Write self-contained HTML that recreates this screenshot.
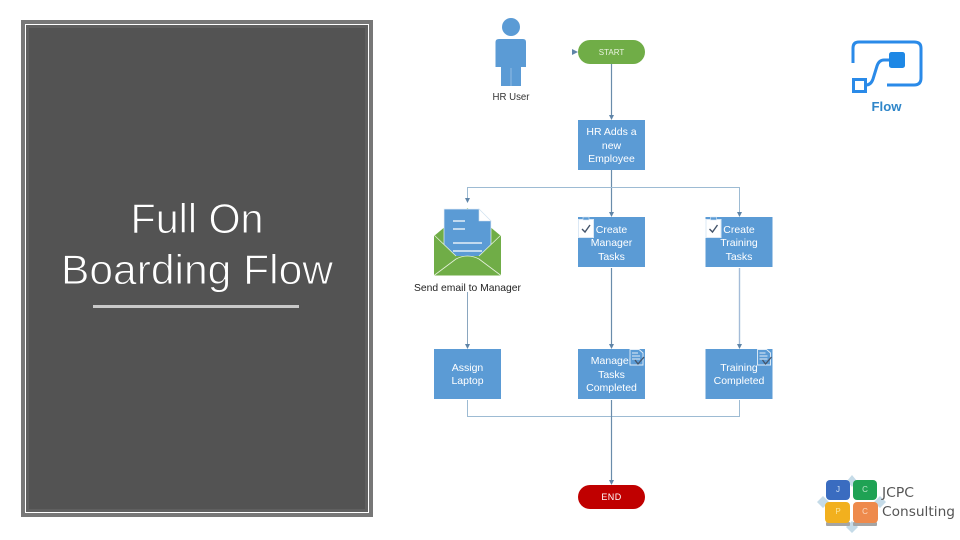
<!DOCTYPE html>
<html><head><meta charset="utf-8"><style>
html,body{margin:0;padding:0;background:#fff;width:960px;height:540px;overflow:hidden}
svg{display:block;filter:blur(.3px)}
text{font-family:"Liberation Sans",sans-serif}
</style></head><body>
<svg width="960" height="540" viewBox="0 0 960 540" xmlns="http://www.w3.org/2000/svg">
<rect width="960" height="540" fill="#fff"/>
<!-- left panel -->
<rect x="21" y="20" width="352" height="497" fill="#777"/>
<rect x="25" y="24" width="344" height="489" fill="#fff"/>
<rect x="26" y="25" width="342" height="487" fill="#5f5f5f"/>
<rect x="29" y="28" width="336" height="481" fill="#535353"/>
<g font-size="42" fill="#fff" stroke="#535353" stroke-width=".9" text-anchor="middle">
<text x="197" y="233" textLength="133" lengthAdjust="spacingAndGlyphs">Full On</text>
<text x="197" y="284" textLength="272" lengthAdjust="spacingAndGlyphs">Boarding Flow</text>
</g>
<rect x="93" y="305" width="206" height="3" fill="#c9c9c9"/>

<!-- connectors -->
<g fill="none" stroke="#7f9db9" stroke-width="1">
<path d="M611.5 64V118" stroke="#6a8cab" stroke-width="1.2"/>
<path d="M611.5 170V214" stroke="#6a8cab" stroke-width="1.2"/>
<path d="M467.5 200V187.5H739.5V214" stroke="#9dbbd3"/>
<path d="M467.5 292V347" stroke="#8aa6bf"/>
<path d="M611.5 268V346" stroke="#6a8cab" stroke-width="1.2"/>
<path d="M739.5 268V346" stroke="#a4bcd8" stroke-width="1.4"/>
<path d="M467.5 400V416.5H739.5V400" stroke="#9dbbd3"/>
<path d="M611.5 400V482" stroke="#6a8cab" stroke-width="1.2"/>
</g>
<g fill="#5f85a8">
<path d="M572 49L578 52L572 55Z"/>
<path d="M609 115H614L611.5 120Z"/>
<path d="M465 198H470L467.5 203Z"/>
<path d="M609 212H614L611.5 217Z"/>
<path d="M737 212H742L739.5 217Z"/>
<path d="M465 344H470L467.5 349Z"/>
<path d="M609 344H614L611.5 349Z"/>
<path d="M737 344H742L739.5 349Z"/>
<path d="M609 480H614L611.5 485Z"/>
</g>

<!-- HR user -->
<g fill="#5b9bd5">
<circle cx="511" cy="27" r="9"/>
<path d="M499 39H523Q526 39 526 42V67H521V86H501V67H495.500V42Q495.500 39 499 39Z"/>
</g>
<path d="M511 68V86" stroke="#a9c9e8" stroke-width=".7"/>
<text x="511" y="100" font-size="10" fill="#333" text-anchor="middle" textLength="37" lengthAdjust="spacingAndGlyphs">HR User</text>

<!-- start / end -->
<rect x="578" y="40" width="67" height="24" rx="12" fill="#70ad47"/>
<text x="611.500" y="55" font-size="8" fill="#e8f3df" text-anchor="middle">START</text>
<rect x="578" y="485" width="67" height="24" rx="12" fill="#c00000"/>
<text x="611.500" y="500" font-size="9" fill="#fff" text-anchor="middle" letter-spacing=".4">END</text>

<!-- boxes -->
<g fill="#5b9bd5">
<rect x="578" y="120" width="67" height="50"/>
<rect x="578" y="217" width="67" height="50"/>
<rect x="705.500" y="217" width="67" height="50"/>
<rect x="434" y="349" width="67" height="50"/>
<rect x="578" y="349" width="67" height="50"/>
<rect x="705.500" y="349" width="67" height="50"/>
</g>
<g font-size="10.500" fill="#fff" text-anchor="middle">
<text x="611.500" y="135">HR Adds a</text>
<text x="611.500" y="149">new</text>
<text x="611.500" y="162">Employee</text>
<text x="611.500" y="233">Create</text>
<text x="611.500" y="246">Manager</text>
<text x="611.500" y="260">Tasks</text>
<text x="739" y="233">Create</text>
<text x="739" y="246">Training</text>
<text x="739" y="260">Tasks</text>
<text x="467.500" y="371">Assign</text>
<text x="467.500" y="384">Laptop</text>
<text x="611.500" y="364">Manager</text>
<text x="611.500" y="378">Tasks</text>
<text x="611.500" y="391">Completed</text>
<text x="739" y="371">Training</text>
<text x="739" y="384">Completed</text>
</g>

<!-- clipboard icons -->
<g>
<rect x="578.500" y="219.500" width="15" height="18" fill="#fff" stroke="#dbe8f5"/>
<rect x="583" y="217" width="6" height="3" fill="#5b9bd5" stroke="#dbe8f5" stroke-width=".6"/>
<path d="M582 229L585 232L590 225" fill="none" stroke="#44546a" stroke-width="1.400"/>
<rect x="706" y="219.500" width="15" height="18" fill="#fff" stroke="#dbe8f5"/>
<rect x="710.500" y="217" width="6" height="3" fill="#5b9bd5" stroke="#dbe8f5" stroke-width=".6"/>
<path d="M709.500 229L712.500 232L717.500 225" fill="none" stroke="#44546a" stroke-width="1.400"/>
</g>
<!-- doc-check icons -->
<g fill="none" stroke="#e3eef8" stroke-width=".9">
<path d="M630 349.500H639L643 353V365H630Z" fill="#5b9bd5"/>
<path d="M632 353H638M632 356H640M632 359H640"/>
<path d="M757.500 349.500H766.500L770.500 353V365H757.500Z" fill="#5b9bd5"/>
<path d="M759.500 353H765.500M759.500 356H767.500M759.500 359H767.500"/>
</g>
<path d="M635 360L638 364L644 357" fill="none" stroke="#44546a" stroke-width="1.300"/>
<path d="M762.500 360L765.500 364L771.500 357" fill="none" stroke="#44546a" stroke-width="1.300"/>

<!-- email icon -->
<path d="M434 236L467.500 208L501 236V275.500H434Z" fill="#70ad47"/>
<path d="M444 209H479L491 221V258H444Z" fill="#5b9bd5" stroke="#e8f0f8" stroke-width=".7"/>
<path d="M479 209V221H491Z" fill="#fff" stroke="#cfe0ef" stroke-width=".6"/>
<path d="M453 221H465M453 229H465M453 243H482M453 251H482" stroke="#fff" stroke-width="1.200" fill="none"/>
<path d="M434 235L456 256H479L501 235V275.500H434Z" fill="#70ad47"/>
<path d="M434 235L456 256M501 235L479 256M434 275.500L456 259Q467.500 253 479 259L501 275.500" fill="none" stroke="#e6f2dc" stroke-width=".8"/>
<text x="467.500" y="291" font-size="10.500" fill="#222" text-anchor="middle" textLength="107" lengthAdjust="spacingAndGlyphs">Send email to Manager</text>

<!-- flow logo -->
<path d="M853 63V48Q853 42 859 42H914Q921 42 921 48V78Q921 85 914 85H887" fill="none" stroke="#2a8ae8" stroke-width="3"/>
<rect x="889" y="52" width="16" height="16" rx="2.500" fill="#1e88e5"/>
<path d="M889 60H884Q879 60 877 66L873 79Q871 85 866 85H864" fill="none" stroke="#2a8ae8" stroke-width="3"/>
<rect x="853.500" y="79.500" width="12" height="12" fill="#fff" stroke="#2a8ae8" stroke-width="3"/>
<text x="886.500" y="111" font-size="13" font-weight="bold" fill="#2f86c9" text-anchor="middle" textLength="30" lengthAdjust="spacingAndGlyphs">Flow</text>

<!-- JCPC logo -->
<g>
<path d="M852 475L857 481L852 487L847 481ZM823 496L829 502L823 508L817 502ZM880 496L886 502L880 508L874 502ZM852 521L858 527L852 533L846 527Z" fill="#c5dbe8"/>
<rect x="826" y="522" width="24" height="4" rx="1" fill="#a5a5a5"/>
<rect x="853" y="522" width="24" height="4" rx="1" fill="#a5a5a5"/>
<rect x="826" y="480" width="24" height="20" rx="4" fill="#3a6cc0"/>
<rect x="853" y="480" width="24" height="20" rx="4" fill="#1fa254"/>
<rect x="825" y="502" width="25" height="21" rx="4" fill="#f2b01e"/>
<rect x="853" y="502" width="25" height="21" rx="4" fill="#ee8a4c"/>
<g font-size="8" text-anchor="middle">
<text x="838" y="492" fill="#cfe0f5">J</text>
<text x="865" y="492" fill="#b8e6c8">C</text>
<text x="838" y="514" fill="#fbe59b">P</text>
<text x="865" y="514" fill="#fbd9c0">C</text>
</g>
</g>
<g font-size="13" fill="#555" style="font-family:'DejaVu Sans',sans-serif">
<text x="882" y="497" style="font-family:'DejaVu Sans',sans-serif" textLength="32" lengthAdjust="spacingAndGlyphs">JCPC</text>
<text x="882" y="516" style="font-family:'DejaVu Sans',sans-serif" textLength="73" lengthAdjust="spacingAndGlyphs">Consulting</text>
</g>
</svg>
</body></html>
